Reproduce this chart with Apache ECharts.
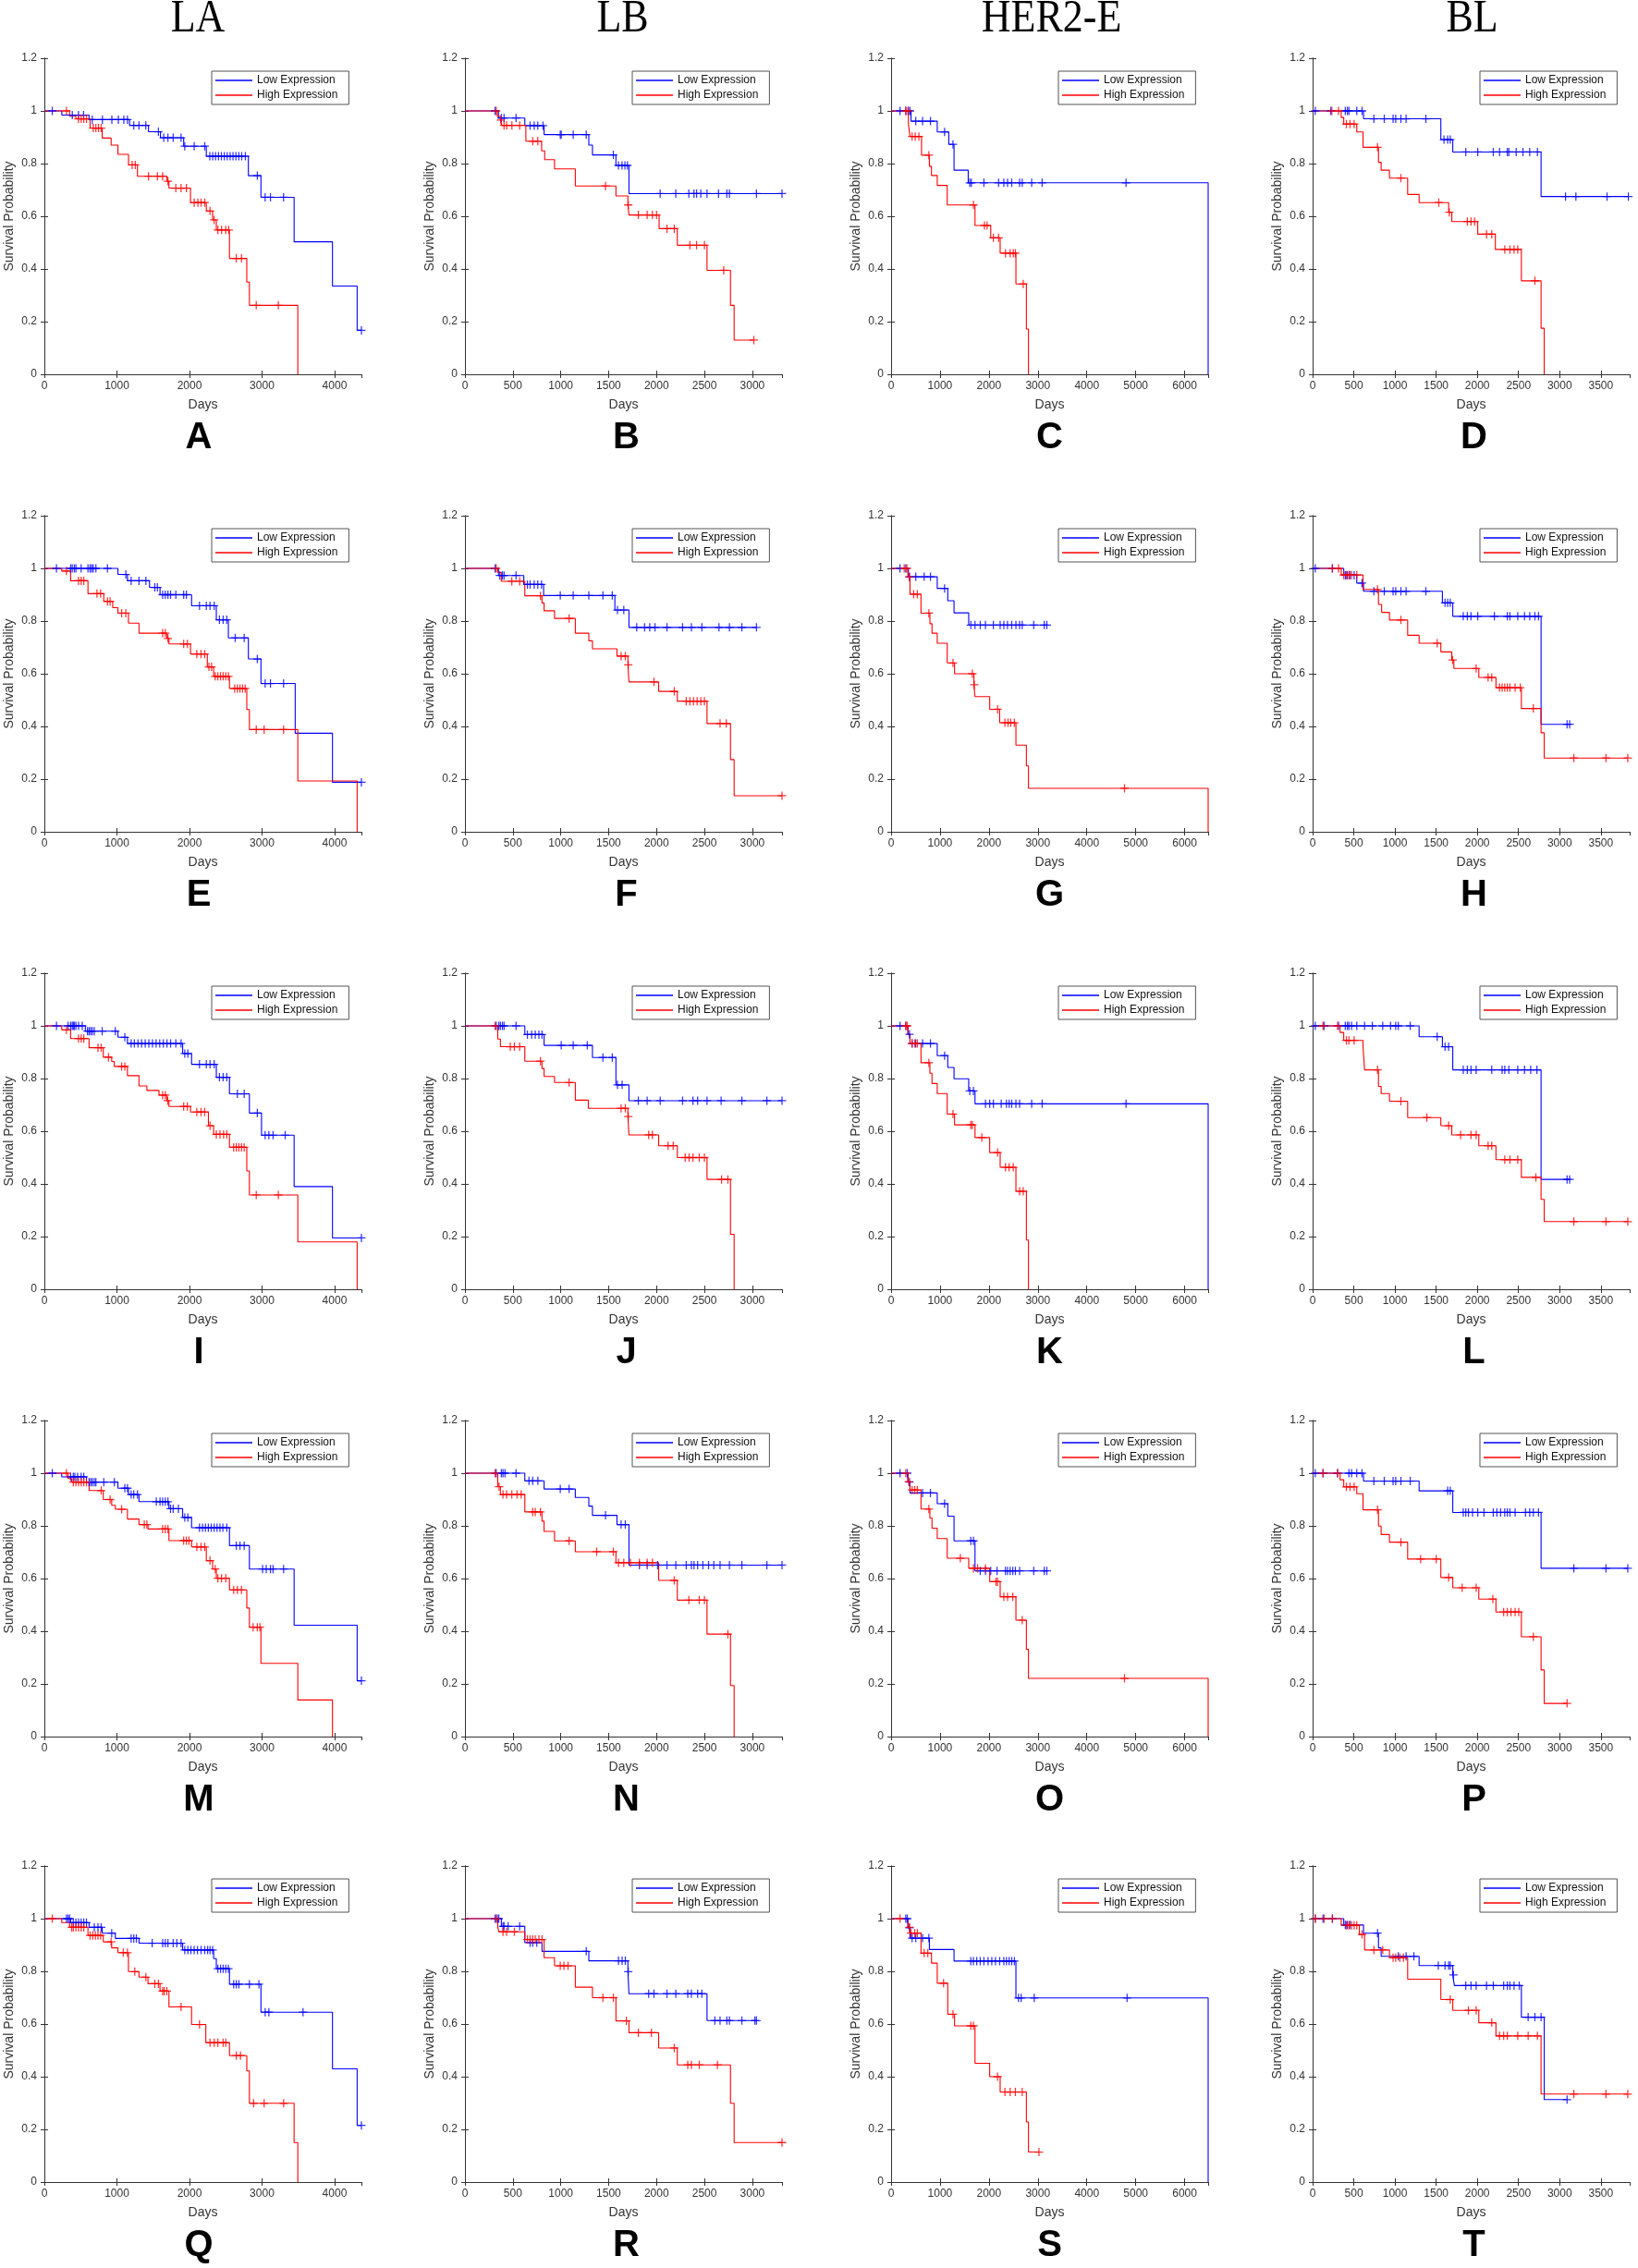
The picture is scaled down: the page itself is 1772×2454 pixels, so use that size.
<!DOCTYPE html>
<html><head><meta charset="utf-8">
<script src="https://cdn.jsdelivr.net/npm/echarts@6/dist/echarts.min.js"></script>
<style>html,body{margin:0;padding:0;background:#fff}#c{width:1772px;height:2454px}</style>
</head><body><div id="c"></div>
<script>
// ---------- Column titles, panel letters, axes ----------
const columnTitles = ['LA', 'LB', 'HER2-E', 'BL'];
const panelLetters = ['A','B','C','D','E','F','G','H','I','J','K','L','M','N','O','P','Q','R','S','T'];
const seriesNames = ['Low Expression', 'High Expression'];
const xMaxByCol = [4370, 3310, 6480, 3850];
const xIntervalByCol = [1000, 500, 1000, 500];
const yMax = 1.2, yInterval = 0.2;
const xName = 'Days', yName = 'Survival Probability';

// ---------- Data: step events [day, survival] and censor days ----------
const A_low = [[0,1],[240,0.984],[616,0.967],[1174,0.945],[1435,0.921],[1600,0.898],[1920,0.866],[2232,0.828],[2812,0.754],[2985,0.672],[3442,0.503],[3971,0.335],[4311,0.167]];
const A_low_c = [109,385,470,540,660,800,930,1020,1095,1145,1232,1304,1398,1572,1645,1703,1775,1884,1935,2065,2210,2280,2320,2360,2400,2440,2480,2520,2560,2600,2640,2680,2720,2770,2935,3043,3116,3297,4370];
const A_high = [[0,1],[348,0.98],[435,0.97],[630,0.935],[797,0.897],[920,0.87],[1014,0.835],[1160,0.795],[1283,0.752],[1690,0.733],[1717,0.707],[2014,0.652],[2232,0.62],[2319,0.586],[2370,0.548],[2551,0.44],[2790,0.35],[2826,0.262],[3493,0]];
const A_high_c = [304,470,507,543,580,674,710,746,783,1210,1253,1435,1558,1630,1703,1812,1884,1957,2065,2116,2160,2210,2283,2340,2391,2442,2500,2540,2645,2717,2920,3225];

const B_low = [[0,1],[350,0.973],[625,0.944],[826,0.91],[1293,0.87],[1331,0.833],[1576,0.793],[1712,0.686]];
const B_low_c = [315,380,408,533,680,723,760,815,995,1005,1130,1266,1549,1603,1640,1670,1696,2038,2201,2337,2391,2418,2462,2527,2647,2734,2761,3043,3310];
const B_high = [[0,1],[337,0.98],[370,0.965],[385,0.945],[636,0.885],[800,0.848],[832,0.815],[935,0.78],[1152,0.715],[1576,0.677],[1701,0.643],[1712,0.605],[2027,0.553],[2217,0.49],[2527,0.395],[2772,0.262],[2810,0.13]];
const B_high_c = [326,375,408,435,490,571,707,760,1467,1705,1810,1902,1957,2000,2109,2185,2348,2418,2500,2701,3016];

const C_low = [[0,1],[407,0.961],[943,0.92],[1179,0.873],[1286,0.775],[1576,0.727],[6480,0]];
const C_low_c = [182,300,354,386,504,643,804,1093,1265,1608,1640,1897,2197,2304,2380,2465,2626,2680,2873,3087,4802];
const C_high = [[0,1],[354,0.95],[386,0.903],[622,0.832],[782,0.79],[825,0.755],[943,0.717],[1147,0.643],[1715,0.565],[2036,0.518],[2229,0.46],[2551,0.343],[2765,0.172],[2808,0]];
const C_high_c = [300,343,429,493,568,772,1683,1908,1961,2090,2197,2337,2433,2497,2540,2700];

const D_low = [[0,1],[618,0.97],[1557,0.891],[1702,0.844],[2774,0.675]];
const D_low_c = [32,221,397,422,441,536,600,744,870,977,1009,1072,1135,1375,1595,1640,1671,1860,2005,2194,2270,2364,2383,2472,2554,2636,2730,3071,3197,3575,3834];
const D_high = [[0,1],[347,0.975],[378,0.95],[536,0.92],[612,0.862],[800,0.805],[832,0.775],[933,0.745],[1154,0.683],[1293,0.652],[1652,0.615],[1690,0.58],[2005,0.532],[2219,0.474],[2535,0.355],[2774,0.175],[2812,0]];
const D_high_c = [233,315,410,454,504,788,1072,1532,1660,1879,1923,1967,2112,2175,2333,2396,2446,2491,2699];

const E_low = [[0,1],[1014,0.977],[1145,0.953],[1449,0.928],[1594,0.9],[2029,0.858],[2370,0.805],[2536,0.736],[2812,0.656],[2985,0.563],[3457,0.374],[3971,0.188]];
const E_low_c = [167,362,384,413,435,507,601,630,652,674,710,870,1123,1196,1304,1399,1522,1558,1630,1667,1703,1739,1812,1920,1957,2138,2232,2283,2341,2413,2464,2514,2630,2754,2935,3043,3116,3297,4370];
const E_high = [[0,1],[239,0.99],[362,0.953],[601,0.904],[819,0.875],[942,0.851],[1014,0.83],[1159,0.792],[1304,0.754],[1688,0.734],[1717,0.713],[2014,0.675],[2246,0.626],[2333,0.59],[2551,0.544],[2790,0.464],[2826,0.388],[3493,0.193],[4311,0]];
const E_high_c = [304,471,507,543,725,775,870,906,1065,1123,1630,1667,1703,1920,1971,2101,2159,2210,2268,2304,2355,2391,2428,2464,2500,2536,2623,2660,2696,2732,2768,2920,3029,3297];

const F_low = [[0,1],[350,0.973],[614,0.939],[821,0.897],[1565,0.842],[1712,0.776]];
const F_low_c = [315,364,391,408,533,652,680,723,760,799,995,1130,1293,1440,1538,1592,1658,1793,1875,1929,1984,2109,2272,2364,2473,2652,2761,2891,3043];
const F_high = [[0,1],[342,0.985],[380,0.951],[625,0.896],[804,0.869],[826,0.839],[935,0.81],[1152,0.754],[1293,0.725],[1331,0.695],[1587,0.667],[1701,0.634],[1712,0.569],[2022,0.533],[2217,0.496],[2527,0.411],[2772,0.274],[2810,0.137]];
const F_high_c = [326,489,571,788,1087,1630,1674,1705,1973,2185,2310,2348,2386,2424,2462,2500,2663,2728,3310];

const G_low = [[0,1],[354,0.968],[943,0.924],[1158,0.877],[1286,0.831],[1586,0.785]];
const G_low_c = [182,300,375,504,675,804,1093,1629,1715,1822,1929,2090,2229,2304,2379,2465,2551,2626,2680,2915,3130,3183];
const G_high = [[0,1],[343,0.967],[386,0.902],[611,0.83],[793,0.79],[836,0.754],[943,0.716],[1147,0.641],[1297,0.6],[1693,0.558],[1715,0.513],[2015,0.465],[2219,0.414],[2551,0.329],[2765,0.25],[2808,0.165],[6480,0]];
const G_high_c = [268,322,375,461,536,772,1265,1661,1700,2176,2326,2390,2444,2519,4770];

const H_low = [[0,1],[378,0.974],[536,0.944],[618,0.913],[1576,0.869],[1702,0.818],[2774,0.408]];
const H_low_c = [32,240,397,422,454,504,599,744,870,977,1009,1072,1135,1375,1608,1640,1671,1829,1879,1923,2005,2207,2364,2396,2491,2573,2636,2699,2743,3090,3121];
const H_high = [[0,1],[347,0.975],[612,0.92],[800,0.863],[838,0.833],[933,0.804],[1154,0.746],[1293,0.716],[1557,0.683],[1690,0.652],[1715,0.62],[2018,0.586],[2226,0.547],[2535,0.468],[2774,0.376],[2812,0.28]];
const H_high_c = [240,315,378,410,441,473,536,788,1072,1513,1700,1986,2131,2175,2270,2301,2333,2364,2396,2459,2522,2680,3172,3562,3827];

const I_low = [[0,1],[565,0.98],[1014,0.957],[1145,0.933],[1906,0.895],[2029,0.854],[2370,0.805],[2551,0.742],[2826,0.669],[2993,0.585],[3442,0.39],[3971,0.195]];
const I_low_c = [167,326,362,384,399,413,435,471,522,594,616,638,660,688,797,978,1109,1196,1240,1290,1340,1390,1440,1490,1540,1590,1640,1690,1740,1812,1884,1935,1978,2138,2232,2283,2341,2413,2464,2514,2660,2754,2935,3043,3094,3152,3319,4370];
const I_high = [[0,1],[239,0.985],[362,0.952],[616,0.917],[812,0.881],[928,0.865],[964,0.846],[1145,0.811],[1304,0.772],[1413,0.755],[1580,0.737],[1688,0.716],[1717,0.694],[2014,0.673],[2261,0.621],[2333,0.588],[2551,0.539],[2790,0.449],[2826,0.358],[3493,0.18],[4311,0]];
const I_high_c = [304,471,507,543,739,783,884,1065,1109,1630,1667,1700,1920,1971,2101,2159,2210,2283,2370,2420,2470,2514,2609,2645,2681,2717,2754,2920,3225];

const J_low = [[0,1],[625,0.967],[826,0.926],[1331,0.88],[1576,0.776],[1712,0.716]];
const J_low_c = [326,353,370,391,408,533,652,696,734,772,804,1005,1130,1277,1440,1538,1592,1641,1810,1902,2038,2272,2380,2429,2527,2674,2891,3152,3310];
const J_high = [[0,1],[342,0.95],[370,0.921],[625,0.866],[804,0.838],[826,0.808],[935,0.785],[1152,0.718],[1288,0.687],[1701,0.656],[1712,0.586],[2022,0.545],[2217,0.5],[2527,0.417],[2772,0.209],[2810,0]];
const J_high_c = [315,473,516,571,788,1087,1630,1674,1705,1918,1957,2120,2174,2299,2340,2380,2446,2500,2679,2745];

const K_low = [[0,1],[343,0.968],[386,0.933],[943,0.887],[1158,0.842],[1286,0.799],[1586,0.753],[1715,0.704],[6480,0]];
const K_low_c = [182,300,375,429,504,643,804,1093,1608,1683,1929,2015,2090,2251,2358,2412,2465,2551,2626,2873,3087,4802];
const K_high = [[0,1],[343,0.967],[386,0.933],[611,0.86],[793,0.82],[836,0.781],[943,0.743],[1147,0.665],[1297,0.624],[1715,0.576],[2015,0.519],[2229,0.463],[2551,0.372],[2765,0.187],[2808,0]];
const K_high_c = [300,330,429,482,536,772,1265,1629,1661,1854,2176,2337,2412,2497,2626,2700];

const L_low = [[0,1],[1293,0.959],[1576,0.921],[1702,0.833],[2774,0.417]];
const L_low_c = [32,139,315,397,422,441,473,536,631,725,851,946,1009,1040,1185,1513,1608,1652,1829,1879,1923,1986,2175,2301,2333,2383,2491,2573,2648,2724,3090,3121];
const L_high = [[0,1],[334,0.975],[378,0.945],[612,0.921],[631,0.833],[800,0.77],[832,0.743],[933,0.714],[1154,0.652],[1557,0.621],[1690,0.586],[2018,0.545],[2226,0.492],[2535,0.425],[2774,0.341],[2812,0.257]];
const L_high_c = [126,303,410,441,504,788,1072,1387,1652,1797,1923,1986,2131,2175,2333,2396,2491,2711,3172,3562,3827];

const M_low = [[0,1],[239,0.986],[580,0.966],[1014,0.943],[1159,0.919],[1304,0.892],[1717,0.865],[1906,0.832],[2029,0.793],[2551,0.725],[2826,0.636],[3442,0.423],[4311,0.212]];
const M_low_c = [109,362,399,420,457,507,543,616,638,660,688,710,819,964,1109,1145,1196,1232,1283,1543,1594,1630,1667,1703,1739,1775,1848,1935,1978,2138,2180,2220,2260,2300,2340,2380,2420,2460,2514,2645,2696,2754,3007,3058,3116,3152,3297,4370];
const M_high = [[0,1],[326,0.98],[377,0.966],[616,0.934],[812,0.9],[928,0.878],[978,0.863],[1145,0.826],[1304,0.805],[1428,0.788],[1717,0.744],[2029,0.72],[2232,0.668],[2319,0.636],[2370,0.601],[2551,0.557],[2790,0.488],[2826,0.415],[2985,0.278],[3493,0.139],[3971,0]];
const M_high_c = [304,399,435,471,507,543,580,783,906,1065,1377,1413,1630,1667,1703,1920,1957,1993,2101,2159,2210,2283,2355,2391,2442,2500,2609,2660,2717,2877,2935,2971];

const N_low = [[0,1],[625,0.971],[826,0.94],[1152,0.908],[1293,0.875],[1331,0.84],[1587,0.805],[1712,0.651]];
const N_low_c = [326,380,397,418,533,668,707,761,995,1087,1467,1630,1674,1821,1902,2011,2109,2201,2310,2364,2391,2429,2484,2543,2598,2663,2761,2891,3152,3310];
const N_high = [[0,1],[342,0.949],[370,0.919],[625,0.853],[804,0.818],[826,0.779],[935,0.743],[1152,0.702],[1576,0.66],[2022,0.593],[2217,0.518],[2527,0.389],[2772,0.194],[2810,0]];
const N_high_c = [315,356,397,435,489,543,587,707,734,788,1087,1375,1549,1603,1658,1728,1821,1902,1957,2185,2337,2446,2500,2745];

const O_low = [[0,1],[343,0.966],[386,0.925],[943,0.884],[1158,0.837],[1286,0.743],[1715,0.629]];
const O_low_c = [182,330,375,643,804,1093,1629,1683,1822,1929,2036,2165,2337,2380,2433,2487,2540,2626,2915,3130,3183];
const O_high = [[0,1],[343,0.968],[386,0.936],[611,0.864],[793,0.83],[836,0.791],[943,0.752],[1147,0.677],[1586,0.639],[2015,0.588],[2229,0.531],[2551,0.442],[2765,0.331],[2808,0.221],[6480,0]];
const O_high_c = [300,360,429,482,536,772,1415,1683,1768,1929,2144,2176,2304,2380,2487,2680,4770];

const P_low = [[0,1],[618,0.97],[1293,0.933],[1702,0.851],[2774,0.639]];
const P_low_c = [32,126,303,441,473,536,599,744,870,977,1009,1072,1185,1640,1671,1829,1860,1892,1942,2005,2081,2194,2238,2283,2333,2364,2396,2459,2585,2636,2680,2743,3172,3562,3827];
const P_high = [[0,1],[334,0.975],[378,0.948],[536,0.922],[612,0.861],[800,0.799],[832,0.767],[933,0.738],[1154,0.674],[1557,0.604],[1702,0.565],[2018,0.522],[2226,0.473],[2535,0.379],[2774,0.253],[2812,0.126]];
const P_high_c = [126,303,410,454,504,788,1072,1311,1501,1652,1816,1986,2188,2320,2364,2409,2459,2503,2680,3090];

const Q_low = [[0,1],[362,0.985],[616,0.967],[797,0.945],[978,0.925],[1304,0.907],[1906,0.881],[2333,0.848],[2370,0.81],[2551,0.751],[2985,0.645],[3971,0.43],[4311,0.215]];
const Q_low_c = [304,326,348,399,435,471,507,543,580,688,739,783,928,1196,1232,1268,1486,1630,1667,1703,1775,1826,1884,1935,1978,2020,2065,2110,2160,2210,2250,2283,2319,2391,2428,2464,2500,2536,2609,2645,2681,2826,2957,3043,3094,3565,4370];
const Q_high = [[0,1],[239,0.985],[348,0.967],[601,0.936],[812,0.912],[928,0.889],[1014,0.871],[1159,0.799],[1304,0.778],[1428,0.753],[1594,0.725],[1717,0.665],[2029,0.598],[2225,0.529],[2551,0.48],[2790,0.422],[2826,0.299],[3442,0.15],[3493,0]];
const Q_high_c = [109,377,399,435,471,507,543,630,667,703,739,775,920,1087,1145,1246,1399,1522,1572,1630,1652,1688,1884,2138,2283,2341,2391,2464,2500,2645,2703,2884,3029,3297];

const R_low = [[0,1],[380,0.971],[625,0.909],[804,0.876],[1293,0.84],[1701,0.799],[1712,0.715],[2527,0.613]];
const R_low_c = [315,337,353,397,408,451,571,680,707,750,1266,1603,1641,1674,1705,1918,1973,2109,2201,2326,2364,2429,2473,2609,2663,2734,2761,2891,3027,3043];
const R_high = [[0,1],[342,0.97],[353,0.95],[625,0.921],[826,0.852],[935,0.821],[1152,0.74],[1331,0.7],[1576,0.612],[1712,0.567],[2022,0.509],[2217,0.445],[2772,0.299],[2810,0.15]];
const R_high_c = [326,397,435,516,652,680,707,734,772,804,995,1033,1076,1440,1549,1685,1810,1946,2185,2326,2364,2446,2636,3310];

const S_low = [[0,1],[343,0.965],[386,0.926],[782,0.883],[1286,0.839],[2551,0.699],[6480,0]];
const S_low_c = [300,330,375,429,504,643,772,1629,1683,1750,1822,1897,1982,2058,2133,2219,2304,2358,2412,2465,2520,2604,2658,2926,4823];
const S_high = [[0,1],[343,0.967],[386,0.945],[611,0.869],[825,0.831],[943,0.755],[1158,0.637],[1297,0.593],[1715,0.451],[2015,0.4],[2229,0.342],[2765,0.228],[2808,0.114]];
const S_high_c = [182,375,407,482,536,675,750,1072,1265,1629,1683,2176,2326,2433,2540,2680,3022];

const T_low = [[0,1],[378,0.976],[618,0.945],[800,0.889],[832,0.857],[1293,0.822],[1702,0.786],[1721,0.746],[2535,0.626],[2812,0.313]];
const T_low_c = [32,126,240,397,422,454,788,1040,1135,1230,1526,1608,1652,1671,1710,1860,1923,1986,2112,2194,2320,2364,2396,2446,2509,2617,2699,2774,3090];
const T_high = [[0,1],[347,0.975],[567,0.94],[631,0.881],[933,0.852],[1154,0.77],[1557,0.693],[1702,0.652],[2018,0.605],[2226,0.555],[2774,0.334]];
const T_high_c = [32,139,240,410,441,473,504,536,600,744,851,977,1009,1059,1103,1671,1892,1986,2175,2270,2320,2364,2491,2617,2730,3172,3562,3827];

const panelData = [
  [A_low,A_low_c,A_high,A_high_c],[B_low,B_low_c,B_high,B_high_c],[C_low,C_low_c,C_high,C_high_c],[D_low,D_low_c,D_high,D_high_c],
  [E_low,E_low_c,E_high,E_high_c],[F_low,F_low_c,F_high,F_high_c],[G_low,G_low_c,G_high,G_high_c],[H_low,H_low_c,H_high,H_high_c],
  [I_low,I_low_c,I_high,I_high_c],[J_low,J_low_c,J_high,J_high_c],[K_low,K_low_c,K_high,K_high_c],[L_low,L_low_c,L_high,L_high_c],
  [M_low,M_low_c,M_high,M_high_c],[N_low,N_low_c,N_high,N_high_c],[O_low,O_low_c,O_high,O_high_c],[P_low,P_low_c,P_high,P_high_c],
  [Q_low,Q_low_c,Q_high,Q_high_c],[R_low,R_low_c,R_high,R_high_c],[S_low,S_low_c,S_high,S_high_c],[T_low,T_low_c,T_high,T_high_c]
];

// ---------- Layout & style ----------
const colLeft = [48, 503, 964, 1420], plotW = 343;
const rowTop = [63, 558, 1053, 1537, 2019], plotH = 342;
const titleDx = [-5.5, -1, 2, 1];
const letterDx = [-4.5, 3, 0, 3];
const colors = ['#0000ff', '#ff0000'];
const axisColor = '#333333';
const sans = '"Liberation Sans", Arial, Helvetica, sans-serif';
const plusPath = 'path://M4.3,0H5.7V4.3H10V5.7H5.7V10H4.3V5.7H0V4.3H4.3Z';

function survAt(ev, t) { let s = 1; for (const p of ev) { if (p[0] <= t) s = p[1]; else break; } return s; }
function stepLine(ev, cens) {
  const last = ev[ev.length - 1];
  const tEnd = Math.max(last[0], ...cens);
  return tEnd > last[0] ? ev.concat([[tEnd, last[1]]]) : ev.slice();
}

const grid = [], xAxis = [], yAxis = [], series = [], legend = [], graphicEls = [];

columnTitles.forEach((t, c) => {
  graphicEls.push({ type: 'text', x: colLeft[c] + plotW / 2 + titleDx[c], y: 21, scaleY: 1.15, silent: true,
    style: { text: t, textAlign: 'center', textVerticalAlign: 'middle', fill: '#000',
      font: 'normal 44px "Liberation Serif", "Times New Roman", serif' } });
});

panelData.forEach((pd, i) => {
  const c = i % 4, r = Math.floor(i / 4);
  const left = colLeft[c], top = rowTop[r];
  grid.push({ left: left, top: top, width: plotW, height: plotH, show: false, containLabel: false });
  const xBase = { type: 'value', gridIndex: i, min: 0, max: xMaxByCol[c], interval: xIntervalByCol[c],
    splitLine: { show: false },
    axisLine: { show: true, lineStyle: { color: axisColor, width: 1 } },
    axisTick: { show: true, inside: true, length: 4, lineStyle: { color: axisColor } } };
  xAxis.push(Object.assign({}, xBase, { position: 'bottom', name: xName, nameLocation: 'middle', nameGap: 26,
    nameTextStyle: { fontSize: 14, color: axisColor, fontFamily: sans },
    axisLabel: { show: true, margin: 7, fontSize: 12, color: axisColor, fontFamily: sans, showMaxLabel: false, showMinLabel: true,
      formatter: v => String(v) } }));
  xAxis.push(Object.assign({}, xBase, { position: 'top', axisLabel: { show: false } }));
  const yBase = { type: 'value', gridIndex: i, min: 0, max: yMax, interval: yInterval,
    splitLine: { show: false },
    axisLine: { show: true, lineStyle: { color: axisColor, width: 1 } },
    axisTick: { show: true, inside: true, length: 4, lineStyle: { color: axisColor } } };
  yAxis.push(Object.assign({}, yBase, { position: 'left', name: yName, nameLocation: 'middle', nameGap: 31, nameRotate: 90,
    nameTextStyle: { fontSize: 14, color: axisColor, fontFamily: sans },
    axisLabel: { show: true, margin: 8, fontSize: 12, color: axisColor, fontFamily: sans, showMaxLabel: true,
      formatter: v => String(Math.round(v * 100) / 100) } }));
  yAxis.push(Object.assign({}, yBase, { position: 'right', axisLabel: { show: false } }));

  const groups = [[pd[0], pd[1]], [pd[2], pd[3]]];
  groups.forEach((g, k) => {
    series.push({ type: 'line', name: seriesNames[k], xAxisIndex: 2 * i, yAxisIndex: 2 * i,
      data: stepLine(g[0], g[1]), step: 'end', symbol: 'none', showSymbol: false, clip: true,
      color: colors[k], lineStyle: { color: colors[k], width: 1.1 }, z: 2 + k, animation: false, silent: true });
  });
  groups.forEach((g, k) => {
    series.push({ type: 'scatter', name: 'censored-' + k, xAxisIndex: 2 * i, yAxisIndex: 2 * i,
      data: g[1].map(t => [t, survAt(g[0], t)]), symbol: plusPath, symbolSize: 9, clip: false,
      itemStyle: { color: colors[k] }, z: 4 + k, animation: false, silent: true });
  });

  legend.push({ show: true, left: left + plotW - 14 - 148, top: top + 14, orient: 'vertical',
    itemWidth: 40, itemHeight: 1.4, itemGap: 4, padding: [4, 12, 4, 4],
    borderColor: '#555', borderWidth: 1, backgroundColor: '#fff', selectedMode: false,
    textStyle: { fontSize: 12, color: '#111', fontFamily: sans },
    data: [{ name: seriesNames[0], icon: 'rect' }, { name: seriesNames[1], icon: 'rect' }] });

  graphicEls.push({ type: 'text', x: left + plotW / 2 + letterDx[c], y: top + plotH + 69, silent: true,
    style: { text: panelLetters[i], textAlign: 'center', textVerticalAlign: 'middle', fill: '#000',
      font: 'bold 40px ' + sans } });
});

const chart = echarts.init(document.getElementById('c'), null, { renderer: 'canvas' });
chart.setOption({
  animation: false,
  backgroundColor: '#ffffff',
  grid: grid, xAxis: xAxis, yAxis: yAxis, series: series, legend: legend,
  graphic: { elements: graphicEls }
});
</script></body></html>
